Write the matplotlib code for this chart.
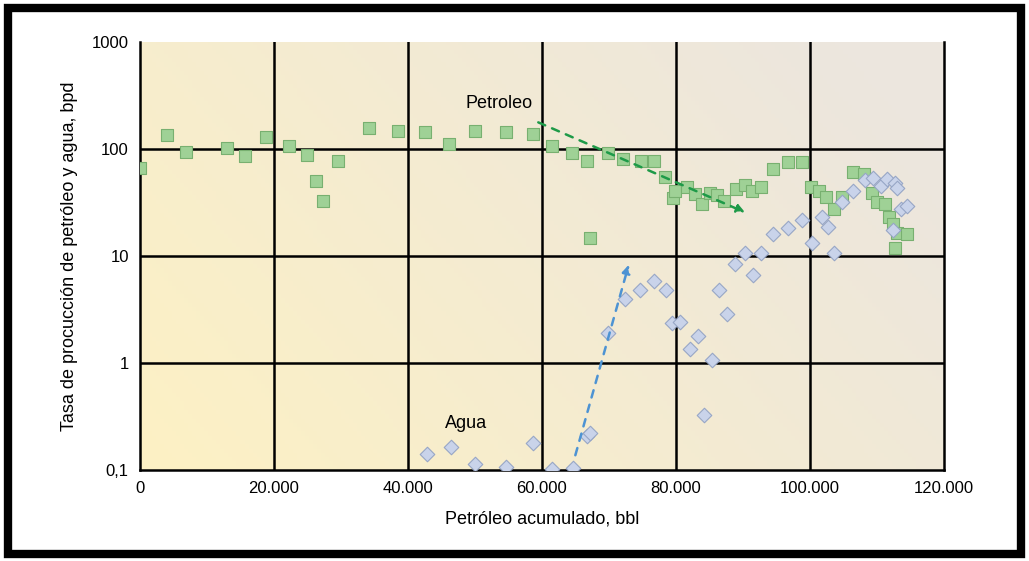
import numpy as np
import matplotlib.pyplot as plt
from matplotlib.patches import Rectangle, FancyArrowPatch

plt.rcParams['font.family'] = ['Liberation Sans Narrow', 'Liberation Sans', 'DejaVu Sans']

# Oil rate (green squares): cumulative oil [bbl], rate [bpd]
oil_x = [0, 4030, 6870, 13000, 15700, 18800, 22200, 24900, 26300, 27300,
         29600, 34200, 38500, 42500, 46100, 50100, 54600, 58700, 61600, 64500,
         66700, 67200, 69900, 72200, 74800, 76700, 78400, 79550, 79850, 81640,
         82840, 84000, 85070, 86100, 87160, 88960, 90300, 91340, 92700, 94480,
         96720, 98800, 100150, 101340, 102400, 103580, 104780, 106400, 108060, 109250,
         110000, 111200, 111800, 112400, 112800, 113100, 114500]
oil_y = [66, 135, 94, 102, 86, 130, 107, 88, 50, 33,
         77, 157, 147, 144, 111, 147, 144, 138, 107, 92,
         77, 14.7, 92, 81, 77, 77, 55, 35, 41, 44,
         38, 31, 39, 37, 33, 42, 46, 41, 44, 65,
         76, 76, 44, 41, 36, 27.5, 36, 61, 58, 39,
         32, 30.6, 23, 20, 11.9, 16.4, 16]

# Water rate (blue diamonds)
wat_x = [42800, 46400, 50100, 54600, 58700, 61600, 64600, 66700, 67200, 69900,
         72400, 74600, 76700, 78500, 79400, 80700, 82100, 83300, 84200, 85400,
         86400, 87600, 88900, 90300, 91600, 92800, 94500, 96700, 98900, 100300,
         101800, 102700, 103700, 104800, 106400, 108200, 109400, 110600, 111500, 112400,
         112700, 113000, 113700, 114600]
wat_y = [0.141, 0.164, 0.114, 0.107, 0.179, 0.102, 0.104, 0.21, 0.22, 1.9,
         3.96, 4.8, 5.8, 4.8, 2.37, 2.4, 1.35, 1.79, 0.33, 1.07,
         4.8, 2.87, 8.4, 10.7, 6.6, 10.7, 16.1, 18.3, 21.7, 13.2,
         23.2, 18.7, 10.7, 32, 41, 51, 54, 45, 52.5, 17.5,
         48, 43, 27.5, 29.3]

x_ticks = [0, 20000, 40000, 60000, 80000, 100000, 120000]
x_labels = ['0', '20.000', '40.000', '60.000', '80.000', '100.000', '120.000']
y_ticks = [0.1, 1, 10, 100, 1000]
y_labels = ['0,1', '1', '10', '100', '1000']

fig = plt.figure(figsize=(10.29, 5.61), dpi=100)
ax = fig.add_axes([0.136, 0.162, 0.781, 0.763])
ax.set_yscale('log')
ax.set_xlim(0, 120000)
ax.set_ylim(0.1, 1000)

# background gradient (pale yellow bottom-left -> beige top-right)
gx, gy = np.meshgrid(np.linspace(0, 1, 200), np.linspace(0, 1, 100))
t = np.clip(0.75 * gx + 0.35 * gy, 0, 1)
c0 = np.array([253, 241, 196]) / 255
c1 = np.array([236, 230, 222]) / 255
img = c0[None, None, :] * (1 - t[..., None]) + c1[None, None, :] * t[..., None]
ax.imshow(img, extent=[0, 1, 0, 1], transform=ax.transAxes, origin='lower',
          aspect='auto', zorder=0)

# grid
for xv in x_ticks[1:-1]:
    ax.axvline(xv, color='black', lw=1.8, zorder=1)
for yv in [1, 10, 100]:
    ax.axhline(yv, color='black', lw=1.8, zorder=1)

for s in ['left', 'bottom', 'right']:
    ax.spines[s].set_linewidth(1.8)
ax.spines['top'].set_visible(False)

ax.scatter(oil_x, oil_y, marker='s', s=75, facecolor='#9fd196',
           edgecolor='#78b070', linewidth=0.8, zorder=3)
ax.scatter(wat_x, wat_y, marker='D', s=55, facecolor='#c9d3ea',
           edgecolor='#97a6c6', linewidth=0.8, zorder=4)

# trend arrows
ax.add_patch(FancyArrowPatch((59100, 182), (90750, 25), arrowstyle='-|>',
                             mutation_scale=12, linestyle=(0, (3, 3)),
                             color='#1e9a48', lw=1.8, zorder=5))
ax.add_patch(FancyArrowPatch((64900, 0.13), (73100, 8.8), arrowstyle='-|>',
                             mutation_scale=12, linestyle=(0, (3, 3)),
                             color='#4d93d3', lw=1.8, zorder=5))

ax.text(53600, 265, 'Petroleo', fontsize=13, ha='center', va='center')
ax.text(48700, 0.27, 'Agua', fontsize=13, ha='center', va='center')

ax.set_xticks(x_ticks)
ax.set_xticklabels(x_labels, fontsize=12)
ax.set_yticks(y_ticks)
ax.set_yticklabels(y_labels, fontsize=12)
ax.minorticks_off()
ax.tick_params(length=0, pad=8)
ax.set_xlabel('Petróleo acumulado, bbl', fontsize=13, labelpad=10)
ax.set_ylabel('Tasa de procucción de petróleo y agua, bpd', fontsize=13, labelpad=10)

# outer black frame
fig.add_artist(Rectangle((0.008, 0.012), 0.984, 0.973, transform=fig.transFigure,
                         fill=False, edgecolor='black', linewidth=6))

fig.savefig('out.png', dpi=100)
